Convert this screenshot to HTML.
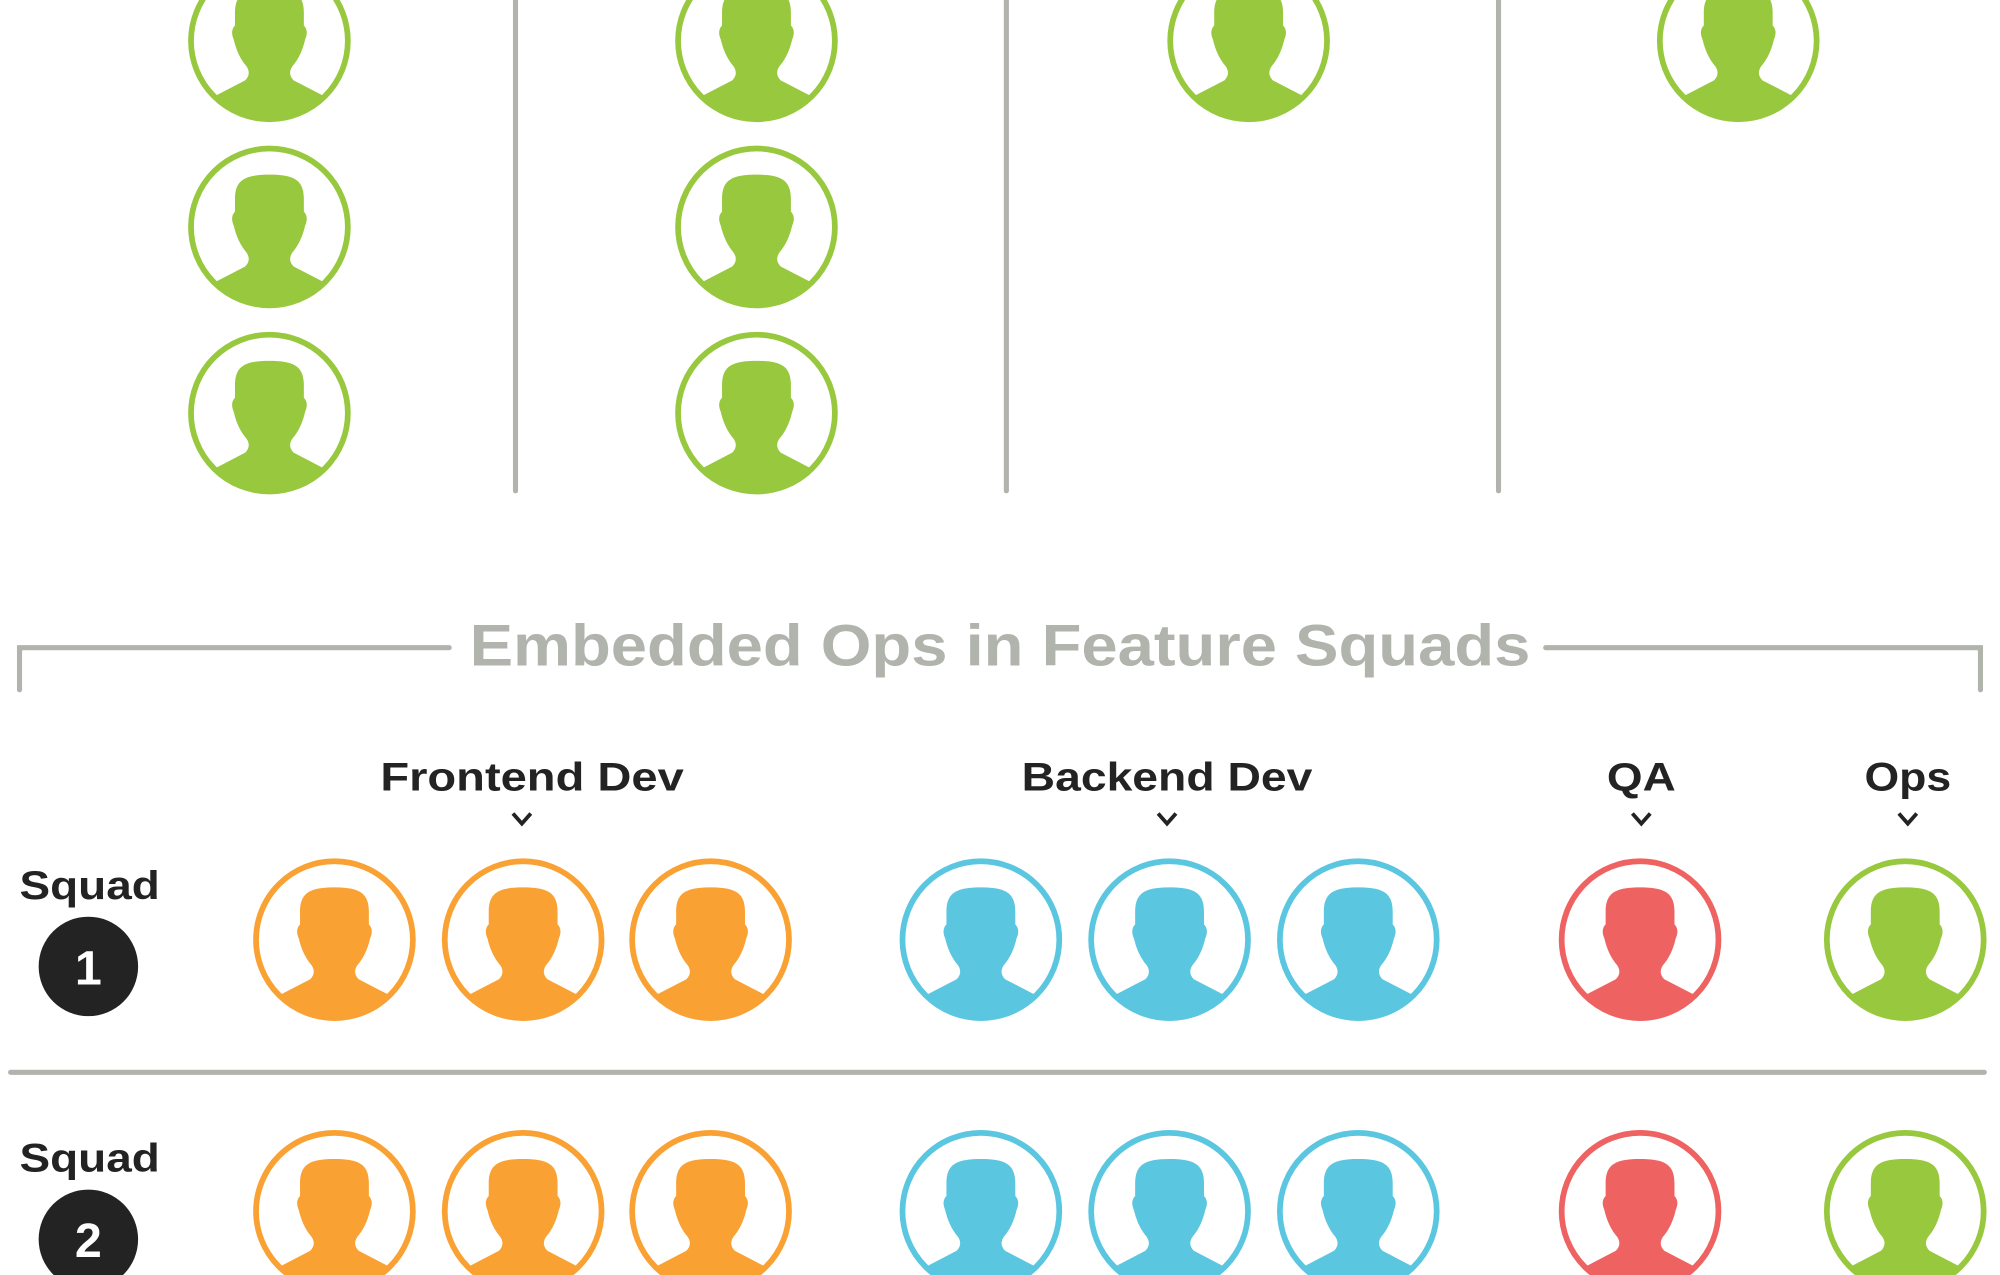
<!DOCTYPE html>
<html><head><meta charset="utf-8"><style>
html,body{margin:0;padding:0;background:#fff;}
svg{display:block;}
text{font-family:"Liberation Sans",sans-serif;font-weight:bold;}
</style></head><body>
<svg width="2000" height="1275" viewBox="0 0 1568 1000" xmlns="http://www.w3.org/2000/svg">
<defs>
<clipPath id="cc"><circle cx="0" cy="0" r="60"/></clipPath>
<g id="av">
<circle cx="0" cy="0" r="61.5" fill="#fff" stroke="currentColor" stroke-width="4.5"/>
<path clip-path="url(#cc)" fill="currentColor" d="M-27,-22 C-27,-37 -19,-41 0,-41 C19,-41 27,-37 27,-22 L27,-12 Q31,-8 28,-1 Q25,12 18,20 Q14,26 19,31 L44,44 L70,80 L-70,80 L-44,44 L-19,31 Q-14,26 -18,20 Q-25,12 -28,-1 Q-31,-8 -27,-12 Z"/>
</g>
<path id="chev" d="M-7,-5 L0,3 L7,-5" fill="none" stroke="#232323" stroke-width="3"/>
</defs>
<rect width="1568" height="1000" fill="#fff"/>
<g stroke="#b1b3ad" stroke-width="4" stroke-linecap="round">
<line x1="404" y1="0" x2="404" y2="385"/>
<line x1="789" y1="0" x2="789" y2="385"/>
<line x1="1175" y1="0" x2="1175" y2="385"/>
</g>
<g color="#97c83e">
<use href="#av" x="211" y="32"/><use href="#av" x="211" y="178"/><use href="#av" x="211" y="324"/>
<use href="#av" x="593" y="32"/><use href="#av" x="593" y="178"/><use href="#av" x="593" y="324"/>
<use href="#av" x="979" y="32"/>
<use href="#av" x="1363" y="32"/>
</g>
<g stroke="#b1b3ad" stroke-width="4" stroke-linecap="round" fill="none">
<polyline points="15,541 15,508 352,508"/>
<polyline points="1212,508 1553,508 1553,541"/>
</g>
<text x="784" y="522" font-size="46" fill="#b1b3ad" text-anchor="middle" textLength="832" lengthAdjust="spacingAndGlyphs">Embedded Ops in Feature Squads</text>
<g fill="#232323" font-size="31">
<text x="417" y="620" text-anchor="middle" textLength="238" lengthAdjust="spacingAndGlyphs">Frontend Dev</text>
<text x="915" y="620" text-anchor="middle" textLength="228" lengthAdjust="spacingAndGlyphs">Backend Dev</text>
<text x="1287" y="620" text-anchor="middle" textLength="54" lengthAdjust="spacingAndGlyphs">QA</text>
<text x="1496" y="620" text-anchor="middle" textLength="68" lengthAdjust="spacingAndGlyphs">Ops</text>
</g>
<use href="#chev" x="409" y="643"/><use href="#chev" x="915" y="643"/><use href="#chev" x="1287" y="643"/><use href="#chev" x="1496" y="643"/>
<g fill="#232323" font-size="31">
<text x="15" y="705" textLength="110" lengthAdjust="spacingAndGlyphs">Squad</text>
<text x="15" y="919" textLength="110" lengthAdjust="spacingAndGlyphs">Squad</text>
</g>
<circle cx="69" cy="758" r="39" fill="#232323"/>
<text x="69" y="772" font-size="38" fill="#fff" text-anchor="middle">1</text>
<circle cx="69" cy="972" r="39" fill="#232323"/>
<text x="69" y="986" font-size="38" fill="#fff" text-anchor="middle">2</text>
<line x1="8" y1="841" x2="1556" y2="841" stroke="#b1b3ad" stroke-width="4" stroke-linecap="round"/>
<g color="#f9a233"><use href="#av" x="262" y="737"/><use href="#av" x="410" y="737"/><use href="#av" x="557" y="737"/>
<use href="#av" x="262" y="950"/><use href="#av" x="410" y="950"/><use href="#av" x="557" y="950"/></g>
<g color="#5bc6e0"><use href="#av" x="769" y="737"/><use href="#av" x="917" y="737"/><use href="#av" x="1065" y="737"/>
<use href="#av" x="769" y="950"/><use href="#av" x="917" y="950"/><use href="#av" x="1065" y="950"/></g>
<g color="#ef6262"><use href="#av" x="1286" y="737"/><use href="#av" x="1286" y="950"/></g>
<g color="#97c83e"><use href="#av" x="1494" y="737"/><use href="#av" x="1494" y="950"/></g>
</svg>
</body></html>
